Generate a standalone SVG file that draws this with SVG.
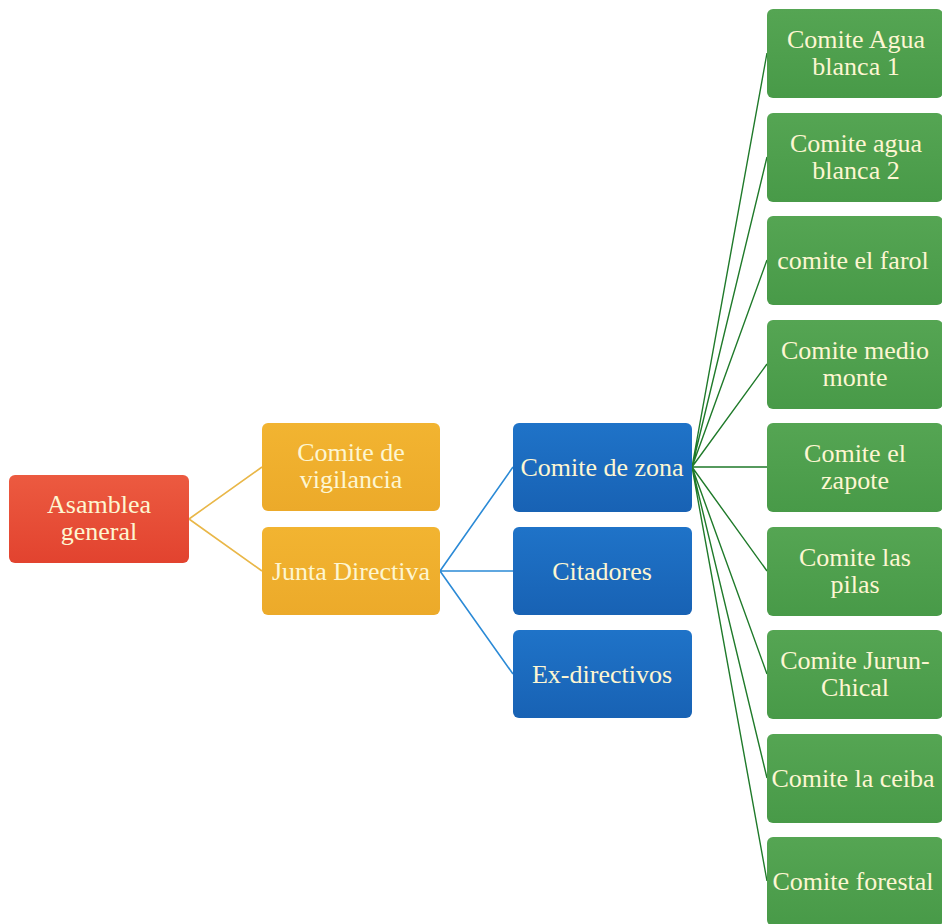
<svg xmlns="http://www.w3.org/2000/svg" width="942" height="924" viewBox="0 0 942 924">
<defs>
<linearGradient id="gRed" x1="0" y1="0" x2="0" y2="1"><stop offset="0" stop-color="#ec5a40"/><stop offset="1" stop-color="#e2432f"/></linearGradient>
<linearGradient id="gOr" x1="0" y1="0" x2="0" y2="1"><stop offset="0" stop-color="#f2b431"/><stop offset="1" stop-color="#ecaa2a"/></linearGradient>
<linearGradient id="gBl" x1="0" y1="0" x2="0" y2="1"><stop offset="0" stop-color="#1f73c8"/><stop offset="1" stop-color="#1862b4"/></linearGradient>
<linearGradient id="gGr" x1="0" y1="0" x2="0" y2="1"><stop offset="0" stop-color="#55a553"/><stop offset="1" stop-color="#489a48"/></linearGradient>
</defs>
<style>
text{font-family:"Liberation Serif","Times New Roman",serif;font-size:26px;fill:#fdf6d2;text-anchor:middle}
.red{fill:url(#gRed)}
.or{fill:url(#gOr)}
.bl{fill:url(#gBl)}
.gr{fill:url(#gGr)}
.c1{stroke:#e9b748;stroke-width:1.6;fill:none}
.c2{stroke:#2b8ad6;stroke-width:1.6;fill:none}
.c3{stroke:#1f7a2a;stroke-width:1.4;fill:none}
</style>
<rect width="942" height="924" fill="#ffffff"/>
<g id="connectors">
<path class="c1" d="M189 519 L262 467 M189 519 L262 571"/>
<path class="c2" d="M440 571 L513 467 M440 571 L513 571 M440 571 L513 674"/>
<path class="c3" d="M692 467 L767 53 M692 467 L767 157 M692 467 L767 260 M692 467 L767 364 M692 467 L767 467 M692 467 L767 571 M692 467 L767 674 M692 467 L767 778 M692 467 L767 881"/>
</g>
<g id="asamblea"><rect class="red" x="9" y="475" width="180" height="88" rx="6"/><text x="99" y="513">Asamblea</text><text x="99" y="540">general</text></g>
<g id="vigilancia"><rect class="or" x="262" y="423" width="178" height="88" rx="6"/><text x="351" y="461">Comite de</text><text x="351" y="488">vigilancia</text></g>
<g id="junta"><rect class="or" x="262" y="527" width="178" height="88" rx="6"/><text x="351" y="580">Junta Directiva</text></g>
<g id="zona"><rect class="bl" x="513" y="423" width="179" height="89" rx="6"/><text x="602" y="476">Comite de zona</text></g>
<g id="citadores"><rect class="bl" x="513" y="527" width="179" height="88" rx="6"/><text x="602" y="580">Citadores</text></g>
<g id="exdirectivos"><rect class="bl" x="513" y="630" width="179" height="88" rx="6"/><text x="602" y="683">Ex-directivos</text></g>
<g id="agua1"><rect class="gr" x="767" y="9" width="176" height="89" rx="6"/><text x="856" y="48">Comite Agua</text><text x="856" y="75">blanca 1</text></g>
<g id="agua2"><rect class="gr" x="767" y="113" width="176" height="89" rx="6"/><text x="856" y="152">Comite agua</text><text x="856" y="179">blanca 2</text></g>
<g id="farol"><rect class="gr" x="767" y="216" width="176" height="89" rx="6"/><text x="853" y="269">comite el farol</text></g>
<g id="medio"><rect class="gr" x="767" y="320" width="176" height="89" rx="6"/><text x="855" y="359">Comite medio</text><text x="855" y="386">monte</text></g>
<g id="zapote"><rect class="gr" x="767" y="423" width="176" height="89" rx="6"/><text x="855" y="462">Comite el</text><text x="855" y="489">zapote</text></g>
<g id="pilas"><rect class="gr" x="767" y="527" width="176" height="89" rx="6"/><text x="855" y="566">Comite las</text><text x="855" y="593">pilas</text></g>
<g id="jurun"><rect class="gr" x="767" y="630" width="176" height="89" rx="6"/><text x="855" y="669">Comite Jurun-</text><text x="855" y="696">Chical</text></g>
<g id="ceiba"><rect class="gr" x="767" y="734" width="176" height="89" rx="6"/><text x="853" y="787">Comite la ceiba</text></g>
<g id="forestal"><rect class="gr" x="767" y="837" width="176" height="89" rx="6"/><text x="853" y="890">Comite forestal</text></g>
</svg>
